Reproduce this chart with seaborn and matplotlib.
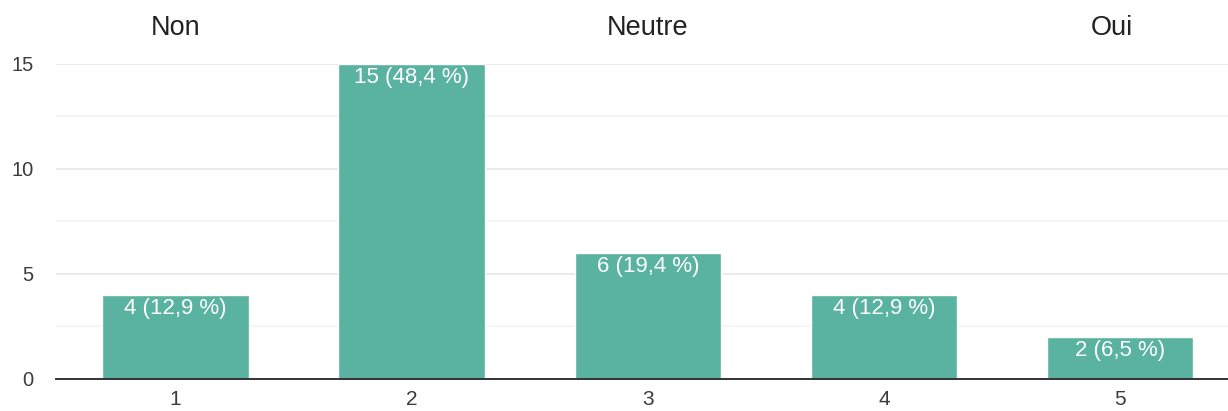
import matplotlib
matplotlib.use("Agg")
import matplotlib.pyplot as plt
import matplotlib.transforms as mtransforms
import seaborn as sns
import pandas as pd

# Survey answers on a 1-5 scale
categories = ["1", "2", "3", "4", "5"]
counts = [4, 15, 6, 4, 2]
percents = ["12,9", "48,4", "19,4", "12,9", "6,5"]
scale_labels = ["Non", "Neutre", "Oui"]
scale_positions = [0, 2, 3.965]

BAR_COLOR = "#5AB2A0"
TEXT_COLOR = "#222222"
TICK_COLOR = "#3c3c3c"

sns.set_theme(style="white")
plt.rcParams["font.family"] = ["Liberation Sans", "DejaVu Sans"]

df = pd.DataFrame({"choice": categories, "count": counts})

fig = plt.figure(figsize=(12.28, 4.11), dpi=100)
ax = fig.add_axes([0.0456, 0.0779, 0.9544, 0.7664])

sns.barplot(data=df, x="choice", y="count", color=BAR_COLOR, saturation=1,
            width=0.62, ax=ax, zorder=3)

ax.set_xlim(-0.506, 4.457)
ax.set_ylim(0, 15)

# Gridlines: major every 5, lighter minor every 2.5
ax.set_yticks([0, 5, 10, 15])
ax.set_yticks([2.5, 7.5, 12.5], minor=True)
ax.yaxis.grid(True, which="major", color="#e6e6e6", linewidth=1.2, zorder=0)
ax.yaxis.grid(True, which="minor", color="#f3f3f3", linewidth=1.2, zorder=0)
ax.xaxis.grid(False)

for side in ["top", "right", "left"]:
    ax.spines[side].set_visible(False)
ax.spines["bottom"].set_color("#333333")
ax.spines["bottom"].set_linewidth(1.4)
ax.spines["bottom"].set_zorder(4)

ax.tick_params(axis="y", which="both", length=0, pad=16, labelsize=14.5,
               labelcolor=TICK_COLOR)
ax.tick_params(axis="x", length=0, pad=8, labelsize=15, labelcolor=TICK_COLOR)
ax.set_xlabel("")
ax.set_ylabel("")

# Value labels inside the top of each bar
offset = mtransforms.offset_copy(ax.transData, fig=fig, x=0, y=-14, units="dots")
for i, (c, p) in enumerate(zip(counts, percents)):
    ax.text(i, c, f"{c} ({p} %)", transform=offset, ha="center", va="center",
            color="white", fontsize=16, zorder=5)

# Scale anchors above the plot
trans = mtransforms.blended_transform_factory(ax.transData, ax.transAxes)
for pos, lab in zip(scale_positions, scale_labels):
    ax.text(pos, 1.114, lab, transform=trans, ha="center", va="center",
            color=TEXT_COLOR, fontsize=19.5)

fig.savefig("out.png", dpi=100, facecolor="white")
